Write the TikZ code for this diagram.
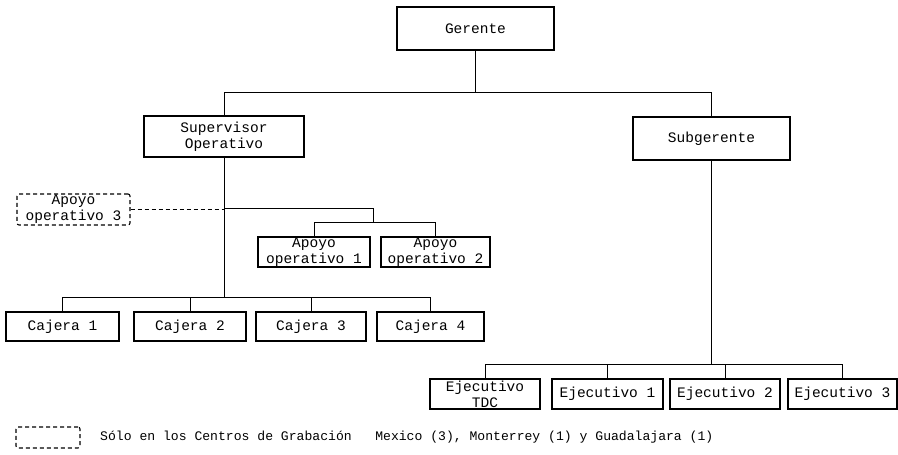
\documentclass[tikz,border=0pt]{standalone}
\usepackage{fontspec}
\setmainfont{Liberation Mono}
\begin{document}
\begin{tikzpicture}[x=1pt,y=-1pt,
  box/.style={draw,line width=1.1pt,inner sep=0pt,align=center,font=\fontsize{14.5}{16}\selectfont},
  dbox/.style={box,dashed,dash pattern=on 4pt off 3pt,rounded corners=2pt},
  conn/.style={line width=0.8pt}]
\useasboundingbox (0,0) rectangle (898,455);
% nodes
\node[box,minimum width=157pt,minimum height=43pt] (ger) at (475.5,28.5) {Gerente};
\node[box,minimum width=160pt,minimum height=41pt] (sup) at (224,136.5) {Supervisor\\Operativo};
\node[box,minimum width=157pt,minimum height=43pt] (sub) at (711.5,138.5) {Subgerente};
\node[dbox,minimum width=113pt,minimum height=31pt] (ap3) at (73.5,209.5) {Apoyo\\operativo 3};
\node[box,minimum width=112pt,minimum height=30pt] (ap1) at (314,252) {Apoyo\\operativo 1};
\node[box,minimum width=109pt,minimum height=30pt] (ap2) at (435.5,252) {Apoyo\\operativo 2};
\node[box,minimum width=113pt,minimum height=29pt] (c1) at (62.5,326.5) {Cajera 1};
\node[box,minimum width=112pt,minimum height=29pt] (c2) at (190,326.5) {Cajera 2};
\node[box,minimum width=110pt,minimum height=29pt] (c3) at (311,326.5) {Cajera 3};
\node[box,minimum width=107pt,minimum height=29pt] (c4) at (430.5,326.5) {Cajera 4};
\node[box,minimum width=110pt,minimum height=30pt] (e0) at (485,394) {Ejecutivo\\TDC};
\node[box,minimum width=111pt,minimum height=30pt] (e1) at (607.5,394) {Ejecutivo 1};
\node[box,minimum width=110pt,minimum height=30pt] (e2) at (725,394) {Ejecutivo 2};
\node[box,minimum width=109pt,minimum height=30pt] (e3) at (842.5,394) {Ejecutivo 3};
\node[dbox,minimum width=64pt,minimum height=21pt] (leg) at (48,437.5) {};
\node[anchor=west,inner sep=0pt,font=\fontsize{13.1}{14}\selectfont] (legt) at (100,437.5) {Sólo en los Centros de Grabación~~~Mexico (3), Monterrey (1) y Guadalajara (1)};
% bus coordinates
\coordinate (b1) at (0,92);
\coordinate (b2) at (0,208);
\coordinate (b3) at (0,222);
\coordinate (b4) at (0,297);
\coordinate (b5) at (0,364);
\coordinate (apx) at (373,0);
% connectors
\draw[conn] (ger.south) -- (ger.south |- b1);
\draw[conn] (sup.north) -- (sup.north |- b1) -- (sub.north |- b1) -- (sub.north);
\draw[conn] (sup.south) -- (sup.south |- b4);
\draw[conn] (sup.south |- b2) -- (apx |- b2) -- (apx |- b3);
\draw[conn] (ap1.north) -- (ap1.north |- b3) -- (ap2.north |- b3) -- (ap2.north);
\draw[conn,dashed,dash pattern=on 4pt off 3pt] (ap3.east) -- (sup.south |- ap3.east);
\draw[conn] (c1.north) -- (c1.north |- b4) -- (c4.north |- b4) -- (c4.north);
\draw[conn] (c2.north) -- (c2.north |- b4);
\draw[conn] (c3.north) -- (c3.north |- b4);
\draw[conn] (sub.south) -- (sub.south |- b5);
\draw[conn] (e0.north) -- (e0.north |- b5) -- (e3.north |- b5) -- (e3.north);
\draw[conn] (e1.north) -- (e1.north |- b5);
\draw[conn] (e2.north) -- (e2.north |- b5);
\end{tikzpicture}
\end{document}
